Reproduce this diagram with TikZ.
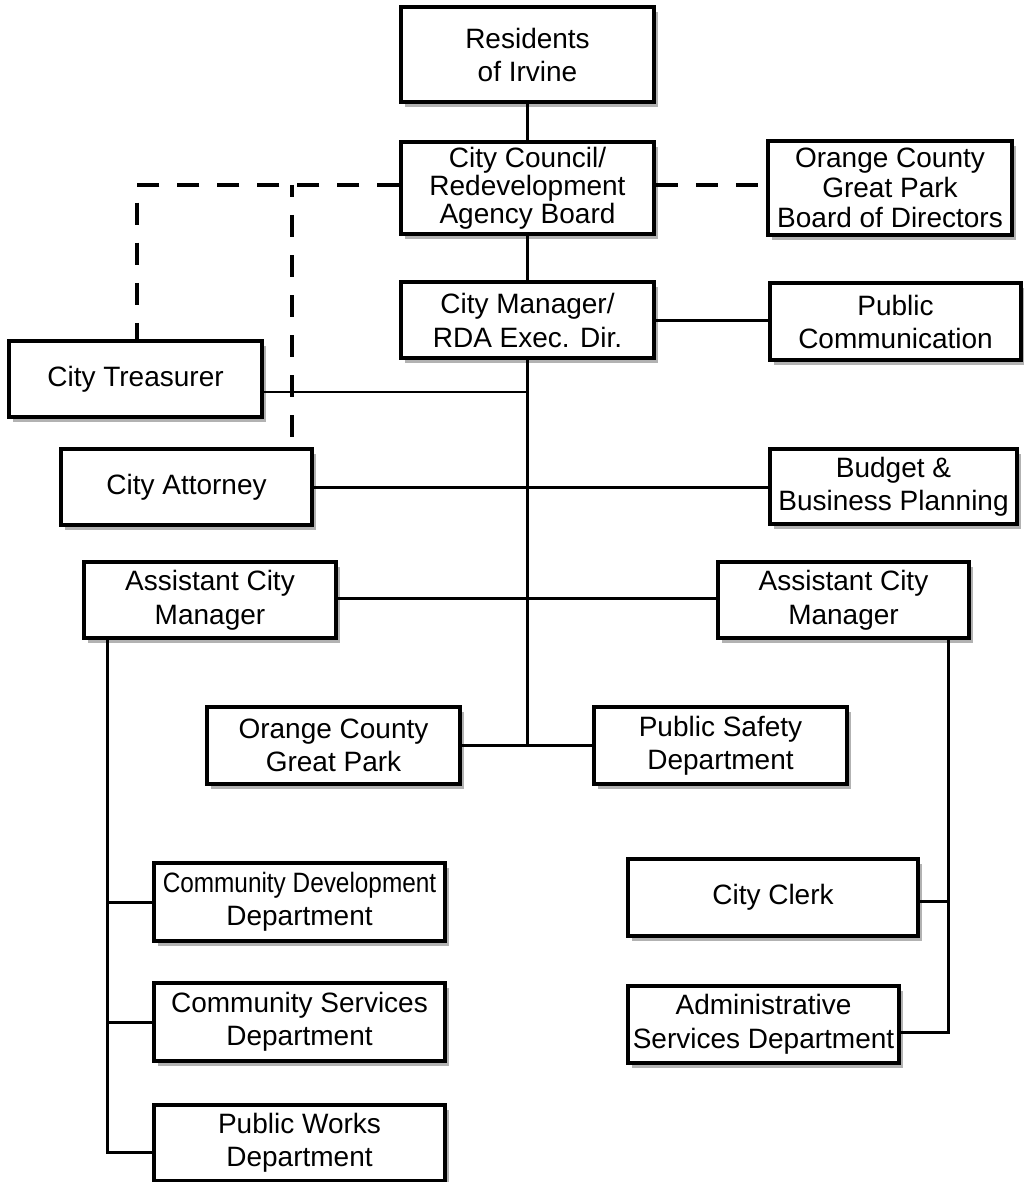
\documentclass[tikz,border=0pt]{standalone}
\usepackage{fontspec}
\usepackage{graphicx}
\setmainfont{Liberation Sans}
\usetikzlibrary{shadows}
\begin{document}
\begin{tikzpicture}[x=1pt,y=-1pt,
  box/.style={draw=black, line width=3.5pt, fill=white, align=center, inner sep=0pt,
    font=\fontsize{28}{33}\selectfont,
    drop shadow={shadow xshift=4pt, shadow yshift=-5pt, fill=black, opacity=0.3}},
  conn/.style={line width=3pt},
  dashline/.style={line width=3.5pt, dash pattern=on 22pt off 18pt}]
\fill[white] (0,0) rectangle (1023,1182);
\useasboundingbox (0,0) rectangle (1023,1182);

\node[box, minimum width=253pt, minimum height=95pt] (res) at (527.5,54.5) {Residents\\of Irvine};
\node[box, minimum width=253pt, minimum height=92pt, font=\fontsize{28}{28}\selectfont] (council) at (527.5,188) {City Council/\\Redevelopment\\Agency Board};
\node[box, minimum width=244pt, minimum height=94pt, font=\fontsize{28}{30}\selectfont] (ocgpb) at (890,188) {Orange County\\Great Park\\Board of Directors};
\node[box, minimum width=253pt, minimum height=76pt, font=\fontsize{28}{34}\selectfont] (mgr) at (527.5,320) {City Manager/\\RDA Exec. Dir.};
\node[box, minimum width=251pt, minimum height=77pt] (pubcom) at (895.5,321.5) {Public\\Communication};
\node[box, minimum width=253pt, minimum height=76pt] (treas) at (135.5,379) {City Treasurer};
\node[box, minimum width=251pt, minimum height=76pt] (atty) at (186.5,487) {City Attorney};
\node[box, minimum width=247pt, minimum height=75pt] (budget) at (893.5,486.5) {Budget \&\\Business Planning};
\node[box, minimum width=252pt, minimum height=76pt, font=\fontsize{28}{34}\selectfont] (acml) at (210,600) {Assistant City\\Manager};
\node[box, minimum width=251pt, minimum height=76pt, font=\fontsize{28}{34}\selectfont] (acmr) at (843.5,600) {Assistant City\\Manager};
\node[box, minimum width=253pt, minimum height=77pt] (ocgp) at (333.5,745.5) {Orange County\\Great Park};
\node[box, minimum width=253pt, minimum height=77pt] (safety) at (720.5,745.5) {Public Safety\\Department};
\node[box, minimum width=291pt, minimum height=78pt] (cdd) at (299.5,902) {\scalebox{0.87}[1]{Community Development}\\Department};
\node[box, minimum width=291pt, minimum height=78pt] (csd) at (299.5,1022) {Community Services\\Department};
\node[box, minimum width=291pt, minimum height=76pt] (pwd) at (299.5,1143) {Public Works\\Department};
\node[box, minimum width=290pt, minimum height=77pt] (clerk) at (773,897.5) {City Clerk};
\node[box, minimum width=271pt, minimum height=77pt, font=\fontsize{28}{34}\selectfont] (admin) at (763.5,1024.5) {Administrative\\Services Department};

% solid connectors
\draw[conn] (res.south) -- (council.north);
\draw[conn] (council.south) -- (mgr.north);
\draw[conn] (mgr.south) -- (mgr.south |- ocgp.east);
\draw[conn] (ocgp.east) -- (safety.west);
\draw[conn] (mgr.east) -- (mgr.east -| pubcom.west);
\draw[line width=2.2pt] ([yshift=-13pt]treas.east) -- ([yshift=-13pt]treas.east -| mgr.south);
\draw[conn] (atty.east) -- (atty.east -| budget.west);
\draw[conn] ([yshift=2pt]acml.east) -- ([yshift=2pt]acml.east -| acmr.west);

\coordinate (lt) at (107,638);
\draw[conn] (lt) |- ([yshift=-9pt]pwd.west);
\draw[conn] (cdd.west) -- (cdd.west -| lt);
\draw[conn] (csd.west) -- (csd.west -| lt);

\coordinate (rt) at (948,638);
\draw[conn] (rt) |- ([yshift=-7.5pt]admin.east);
\draw[conn] ([yshift=-4pt]clerk.east) -- ([yshift=-4pt]clerk.east -| rt);

% dashed connectors
\draw[dashline] ([yshift=3pt]council.west) -| (treas.north -| 137,0);
\draw[dashline] ([yshift=3pt]council.east) -- ([yshift=3pt]council.east -| ocgpb.west);
\coordinate (dv) at (292,185);
\draw[dashline, dash phase=10pt] (dv) -- (dv |- atty.north);
\end{tikzpicture}
\end{document}
